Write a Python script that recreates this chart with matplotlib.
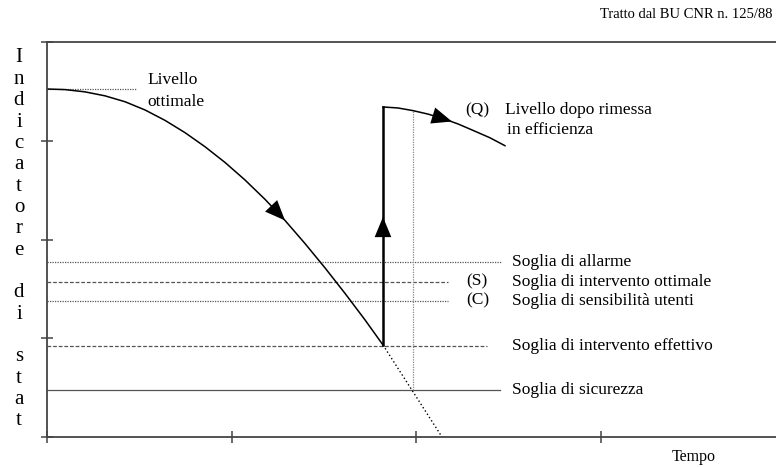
import matplotlib
matplotlib.use("Agg")
import matplotlib.pyplot as plt

plt.rcParams["font.family"] = ["Liberation Serif", "DejaVu Serif"]

# ---------------------------------------------------------------- data
# degradation curve (time units = tick spacing, indicator units = tick spacing)
decay_x = [0.000, 0.098, 0.206, 0.314, 0.423, 0.531, 0.640, 0.748, 0.856,
           0.965, 1.073, 1.182, 1.290, 1.398, 1.507, 1.615, 1.724, 1.821]
decay_y = [3.524, 3.518, 3.495, 3.455, 3.395, 3.312, 3.206, 3.082, 2.940,
           2.780, 2.603, 2.406, 2.193, 1.960, 1.712, 1.455, 1.185, 0.932]
# dotted continuation without intervention
extra_x = [1.821, 2.141]
extra_y = [0.932, 0.0]
# recovery jump and curve after maintenance
jump_x = [1.821, 1.821]
jump_y = [0.932, 3.342]
after_x = [1.821, 1.902, 1.984, 2.065, 2.146, 2.228, 2.309, 2.401, 2.482]
after_y = [3.342, 3.332, 3.305, 3.270, 3.225, 3.170, 3.105, 3.030, 2.950]

# threshold levels
levels_y = [1.769, 1.573, 1.380, 0.925, 0.473]
levels_xend = [2.459, 2.173, 2.173, 2.385, 2.457]
levels_kind = ["dot", "dash", "dot", "dash", "solid"]
levels_tag = ["", "(S)", "(C)", "", ""]
levels_lab = ["Soglia di allarme", "Soglia di intervento ottimale",
              "Soglia di sensibilità utenti", "Soglia di intervento effettivo",
              "Soglia di sicurezza"]

optimum_y = 3.524
optimum_xend = 0.488
marker_x = 1.984          # vertical dotted reference
marker_y = [0.473, 3.30]

# arrow heads (tail, tip)
arrows = [((1.154, 2.460), (1.290, 2.193)),
          ((1.821, 1.792), (1.821, 2.228)),
          ((2.060, 3.273), (2.195, 3.195))]

ylabel = "Indicatore di stat"

# ---------------------------------------------------------------- figure
W, H = 776, 467
fig = plt.figure(figsize=(W / 100, H / 100), dpi=100)
ax = fig.add_axes([47 / W, 1 - 437 / H, (W - 47) / W, (437 - 42) / H])
ax.set_xlim(0, (W - 47) / 184.5)
ax.set_ylim(0, 4)

axcol = "#444444"
for s in ["left", "bottom", "top"]:
    ax.spines[s].set_color(axcol)
    ax.spines[s].set_linewidth(1.3)
ax.spines["right"].set_visible(False)
ax.set_xticks([0, 1, 2, 3])
ax.set_yticks([0, 1, 2, 3, 4])
ax.tick_params(direction="inout", length=9, width=1.1, color=axcol,
               labelbottom=False, labelleft=False)
ax.tick_params(axis="x", length=8.5)

STYLES = {"dot": (0, (1, 1)), "dash": (0, (3, 1.5)), "solid": "-"}
lc = "#555555"
ax.plot([0, optimum_xend], [optimum_y, optimum_y], ls=STYLES["dot"],
        color=lc, lw=0.9)
for y, xe, k in zip(levels_y, levels_xend, levels_kind):
    ax.plot([0, xe], [y, y], ls=STYLES[k], color=lc, lw=0.9)
ax.plot([marker_x, marker_x], marker_y, ls=STYLES["dot"], color="#888888",
        lw=0.9)

ax.plot(decay_x, decay_y, color="black", lw=1.1)
ax.plot(extra_x, extra_y, color="black", lw=1.0, ls=(0, (1, 1.8)))
ax.plot(jump_x, jump_y, color="black", lw=1.8)
ax.plot(after_x, after_y, color="black", lw=1.1)

for tail, tip in arrows:
    ax.annotate("", xy=tip, xytext=tail,
                arrowprops=dict(arrowstyle="-|>,head_length=1.45,head_width=0.6",
                                color="black", lw=0, shrinkA=0, shrinkB=0))

fs = 12.5
for y, tag, lab in zip(levels_y, levels_tag, levels_lab):
    ax.text(2.520, y, lab, ha="left", va="center", fontsize=fs)
    if tag:
        ax.text(2.271, y, tag, ha="left", va="center", fontsize=fs)

ax.text(0.542, 3.615, "Livello", ha="left", va="center", fontsize=fs)
ax.text(0.542, 3.392, "ottimale", ha="left", va="center", fontsize=fs)
ax.text(2.266, 3.311, "(Q)", ha="left", va="center", fontsize=fs)
ax.text(2.482, 3.311, "Livello dopo rimessa", ha="left", va="center", fontsize=fs)
ax.text(2.493, 3.109, "in efficienza", ha="left", va="center", fontsize=fs)
ax.text(3.388, -0.203, "Tempo", ha="left", va="center", fontsize=11.5,
        clip_on=False)

fig.text(772 / W, 1 - 15 / H, "Tratto dal BU CNR n. 125/88", ha="right",
         va="center", fontsize=10.5)

for i, ch in enumerate(ylabel):
    if ch == " ":
        continue
    fig.text(19 / W, 1 - (58 + i * 21.35) / H, ch, ha="center", va="center",
             fontsize=15)

fig.savefig("out.png", dpi=100)
